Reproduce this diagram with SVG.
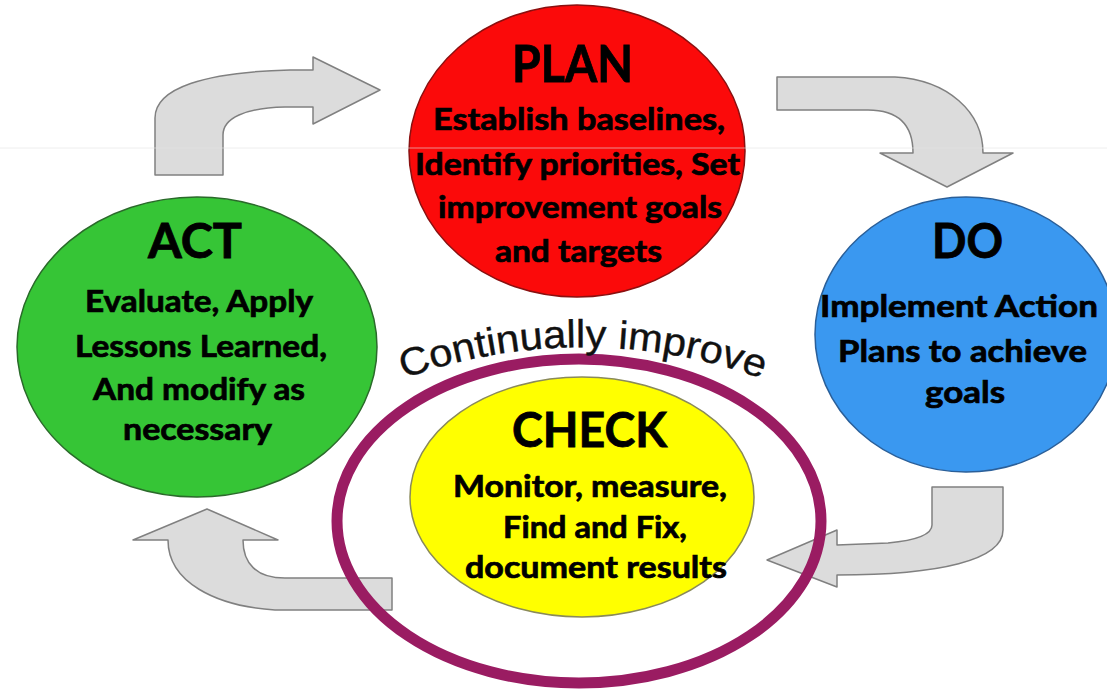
<svg xmlns="http://www.w3.org/2000/svg" width="1107" height="693" viewBox="0 0 1107 693">
<defs>
<style>
.arrow{fill:#dcdcdc;stroke:#808080;stroke-width:1.5;stroke-linejoin:round}
.node{stroke-width:1.5}
.title{font-family:Lato,"Liberation Sans",sans-serif;font-weight:700;fill:#000;stroke:#000;stroke-width:0.8;text-anchor:middle}
.body{font-family:Lato,"Liberation Sans",sans-serif;font-weight:700;fill:#000;stroke:#000;stroke-width:0.7;text-anchor:middle;font-size:30px}
.curved{font-family:"Liberation Sans",Arial,sans-serif;font-size:39px;fill:#111;stroke:#111;stroke-width:0.4}
</style>
<path id="arcPath" d="M395,382 A526.5,526.5 0 0 1 771,382"/>
</defs>
<rect x="0" y="0" width="1107" height="693" fill="#ffffff"/>

<g id="connectors">
<path class="arrow" d="M155,175 L155,118 C155,88 205,72 290,70 L313,70 L313,57 L380,90 L313,124 L313,107 L285,107 C245,108 223,118 223,135 L223,175 Z"/>
<path class="arrow" d="M777,77 L895,77 C948,80 983,112 983,153 L1013,153 L947,187 L880,153 L913,153 C913,127 900,110 868,110 L777,110 Z"/>
<path class="arrow" d="M932,487 L1003,487 L1003,530 C1003,560 940,575 837,575 L837,587 L767,560 L837,530 L837,545 L888,543 C920,540 932,533 932,525 Z"/>
<path class="arrow" d="M392,578 L392,610 L275,610 C215,606 168,582 168,540 L133,540 L207,509 L278,540 L243,540 C243,563 256,578 285,578 Z"/>
</g>

<g id="plan">
<ellipse class="node" cx="577" cy="151" rx="168" ry="146" fill="#fb0a0a" stroke="#8a1010"/>
<text class="title" x="572.5" y="82" font-size="51" textLength="121" lengthAdjust="spacingAndGlyphs">PLAN</text>
<text class="body" x="579" y="130" textLength="292" lengthAdjust="spacingAndGlyphs">Establish baselines,</text>
<text class="body" x="577.5" y="175" textLength="325" lengthAdjust="spacingAndGlyphs">Identify priorities, Set</text>
<text class="body" x="580" y="218" textLength="284" lengthAdjust="spacingAndGlyphs">improvement goals</text>
<text class="body" x="578.5" y="262" textLength="167" lengthAdjust="spacingAndGlyphs">and targets</text>
</g>

<g id="do">
<ellipse class="node" cx="966" cy="334.5" rx="151" ry="137.5" fill="#3a98f0" stroke="#2a5f99"/>
<text class="title" x="967.5" y="258" font-size="47" textLength="71" lengthAdjust="spacingAndGlyphs">DO</text>
<text class="body" x="959" y="317" textLength="278" lengthAdjust="spacingAndGlyphs">Implement Action</text>
<text class="body" x="962.5" y="362" textLength="249" lengthAdjust="spacingAndGlyphs">Plans to achieve</text>
<text class="body" x="965" y="403" textLength="80" lengthAdjust="spacingAndGlyphs">goals</text>
</g>

<g id="act">
<ellipse class="node" cx="197" cy="347" rx="180" ry="150" fill="#36c536" stroke="#2a6a2a"/>
<text class="title" x="195" y="258" font-size="47" textLength="94" lengthAdjust="spacingAndGlyphs">ACT</text>
<text class="body" x="199" y="312" textLength="228" lengthAdjust="spacingAndGlyphs">Evaluate, Apply</text>
<text class="body" x="201" y="357" textLength="252" lengthAdjust="spacingAndGlyphs">Lessons Learned,</text>
<text class="body" x="199" y="400" textLength="212" lengthAdjust="spacingAndGlyphs">And modify as</text>
<text class="body" x="197.5" y="440" textLength="149" lengthAdjust="spacingAndGlyphs">necessary</text>
</g>

<g id="check">
<ellipse class="node" cx="582" cy="497" rx="172" ry="120" fill="#ffff00" stroke="#8a8a5a"/>
<text class="title" x="589.5" y="447" font-size="47" textLength="155" lengthAdjust="spacingAndGlyphs">CHECK</text>
<text class="body" x="590" y="497" font-size="31" textLength="274" lengthAdjust="spacingAndGlyphs">Monitor, measure,</text>
<text class="body" x="595" y="538" font-size="31" textLength="184" lengthAdjust="spacingAndGlyphs">Find and Fix,</text>
<text class="body" x="596" y="578" font-size="31" textLength="262" lengthAdjust="spacingAndGlyphs">document results</text>
</g>

<g id="highlight-ring">
<ellipse cx="579" cy="521" rx="242" ry="162" fill="none" stroke="#9a1c62" stroke-width="11"/>
</g>

<g id="continually-improve">
<text class="curved"><textPath href="#arcPath" startOffset="50%" text-anchor="middle" textLength="365" lengthAdjust="spacingAndGlyphs">Continually improve</textPath></text>
</g>

<line x1="0" y1="148" x2="1107" y2="148" stroke="#e4e4e4" stroke-width="1" opacity="0.6"/>
</svg>
